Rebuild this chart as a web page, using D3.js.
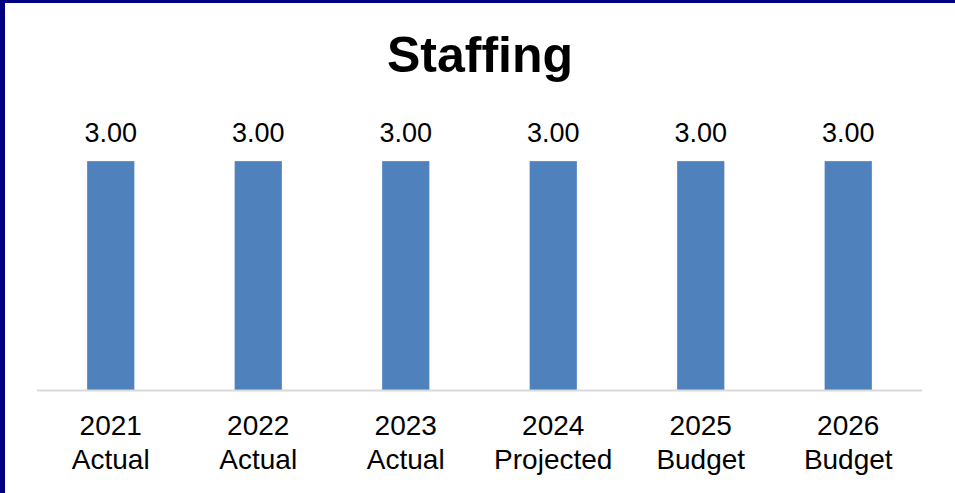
<!DOCTYPE html>
<html>
<head>
<meta charset="utf-8">
<script src="https://cdn.jsdelivr.net/npm/d3@7"></script>
<style>
  html, body { margin: 0; padding: 0; background: #fff; }
  #vis { width: 955px; height: 493px; }
  svg { display: block; font-family: Arial, "Liberation Sans", sans-serif; }
</style>
</head>
<body>
<div id="vis"></div>
<script>
const years = ['2021', '2022', '2023', '2024', '2025', '2026']
const kinds = ['Actual', 'Actual', 'Actual', 'Projected', 'Budget', 'Budget']
const staffing = [3, 3, 3, 3, 3, 3]

const data = years.map((y, i) => ({ key: y + ' ' + kinds[i], year: y, kind: kinds[i], value: staffing[i] }))

const width = 955
const height = 493
const margin = { left: 37, right: 33, top: 123, bottom: 103 }

const svg = d3.select('#vis').append('svg')
  .attr('width', width)
  .attr('height', height)

// frame: navy edge top and left
svg.append('rect').attr('x', 0).attr('y', 0).attr('width', width).attr('height', 3).attr('fill', '#000080')
svg.append('rect').attr('x', 0).attr('y', 0).attr('width', 5).attr('height', height).attr('fill', '#000080')

svg.append('text')
  .attr('x', 480)
  .attr('y', 72)
  .attr('text-anchor', 'middle')
  .style('font-size', '50px')
  .style('font-weight', 'bold')
  .text('Staffing')

const x = d3.scaleBand()
  .domain(data.map(d => d.key))
  .range([margin.left, width - margin.right])
  .paddingInner(0.68)
  .paddingOuter(0.34)

const y = d3.scaleLinear()
  .domain([0, 3.5])
  .range([height - margin.bottom, margin.top])

svg.selectAll('rect.bar')
  .data(data)
  .enter()
  .append('rect')
  .attr('class', 'bar')
  .attr('x', d => x(d.key))
  .attr('y', d => y(d.value))
  .attr('width', x.bandwidth())
  .attr('height', d => y(0) - y(d.value))
  .attr('fill', '#4f81bd')

svg.append('line')
  .attr('x1', margin.left)
  .attr('x2', width - margin.right)
  .attr('y1', y(0) + 0.5)
  .attr('y2', y(0) + 0.5)
  .attr('stroke', '#d9d9d9')
  .attr('stroke-width', 2)

svg.selectAll('text.val')
  .data(data)
  .enter()
  .append('text')
  .attr('class', 'val')
  .attr('x', d => x(d.key) + x.bandwidth() / 2)
  .attr('y', d => y(d.value) - 19)
  .attr('text-anchor', 'middle')
  .style('font-size', '27px')
  .text(d => d3.format('.2f')(d.value))

const lab = svg.selectAll('text.cat')
  .data(data)
  .enter()
  .append('text')
  .attr('class', 'cat')
  .attr('text-anchor', 'middle')
  .style('font-size', '28px')

lab.append('tspan')
  .attr('x', d => x(d.key) + x.bandwidth() / 2)
  .attr('y', y(0) + 45)
  .text(d => d.year)

lab.append('tspan')
  .attr('x', d => x(d.key) + x.bandwidth() / 2)
  .attr('y', y(0) + 79)
  .text(d => d.kind)
</script>
</body>
</html>
